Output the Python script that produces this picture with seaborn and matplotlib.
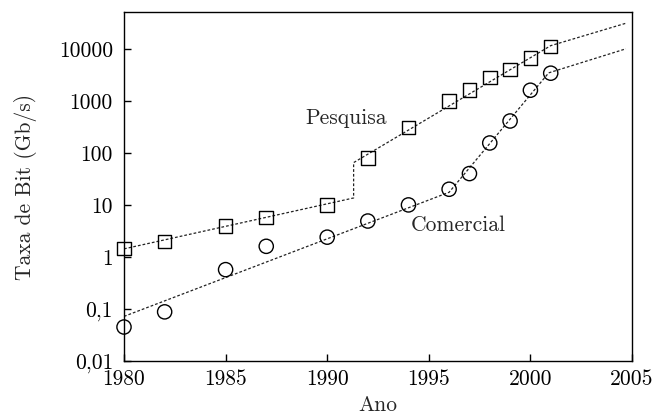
import matplotlib
matplotlib.use("Agg")
import matplotlib.pyplot as plt
import seaborn as sns
import pandas as pd

# Observed link rates (Gb/s) per year
anos = [1980, 1982, 1985, 1987, 1990, 1992, 1994, 1996, 1997, 1998, 1999, 2000, 2001]
pesquisa = [1.45, 2.0, 3.9, 5.7, 10, 80, 310, 1000, 1600, 2800, 4000, 6600, 11000]
comercial = [0.045, 0.088, 0.57, 1.6, 2.4, 4.9, 10, 20, 40, 155, 410, 1600, 3400]

# Trend lines (piecewise)
tend_pesq_x = [1980, 1991.3, 1991.3, 2001, 2004.7]
tend_pesq_y = [1.43, 13.6, 65, 11500, 31000]
tend_com_x = [1980, 1996, 2000.9, 2004.7]
tend_com_y = [0.072, 17.5, 3450, 10000]

yticks = [0.01, 0.1, 1, 10, 100, 1000, 10000]
ytick_labels = ["0,01", "0,1", "1", "10", "100", "1000", "10000"]
xticks = [1980, 1985, 1990, 1995, 2000, 2005]

sns.set_theme(style="ticks")
plt.rcParams["font.family"] = ["cmr10", "DejaVu Serif"]
plt.rcParams["mathtext.fontset"] = "cm"
plt.rcParams["axes.unicode_minus"] = False

FS = 15.5

fig = plt.figure(figsize=(6.53, 4.16), dpi=100)
ax = fig.add_axes([124 / 653, 55 / 416, 508 / 653, 349 / 416])

dash = (0, (2.2, 1.6))
df_tp = pd.DataFrame({"x": tend_pesq_x, "y": tend_pesq_y})
df_tc = pd.DataFrame({"x": tend_com_x, "y": tend_com_y})
sns.lineplot(data=df_tp, x="x", y="y", ax=ax, sort=False, estimator=None,
             color="#222222", lw=0.9, linestyle=dash)
sns.lineplot(data=df_tc, x="x", y="y", ax=ax, sort=False, estimator=None,
             color="#222222", lw=0.9, linestyle=dash)

df = pd.DataFrame({"ano": anos, "pesquisa": pesquisa, "comercial": comercial})
ax.scatter(df["ano"], df["pesquisa"], marker="s", s=95, facecolors="none",
           edgecolors="black", linewidths=1.0, zorder=3, clip_on=False)
ax.scatter(df["ano"], df["comercial"], marker="o", s=105, facecolors="none",
           edgecolors="black", linewidths=1.0, zorder=3, clip_on=False)

ax.set_yscale("log")
ax.set_xlim(1980, 2005)
ax.set_ylim(0.01, 51000)
ax.set_yticks(yticks)
ax.set_yticklabels(ytick_labels)
ax.yaxis.set_minor_locator(matplotlib.ticker.NullLocator())
ax.set_xticks(xticks)
ax.set_xticklabels([str(t) for t in xticks])

ax.tick_params(axis="both", direction="in", length=5, width=1, labelsize=FS,
               colors="black", pad=8)
ax.tick_params(axis="x", pad=6)
for sp in ax.spines.values():
    sp.set_visible(True)
    sp.set_color("black")
    sp.set_linewidth(1.0)

ax.set_xlabel("Ano", fontsize=FS, labelpad=5)
ax.set_ylabel("Taxa de Bit (Gb/s)", fontsize=FS, labelpad=16)

ax.text(1988.9, 470, "Pesquisa", fontsize=FS, ha="left", va="center")
ax.text(1994.1, 4.1, "Comercial", fontsize=FS, ha="left", va="center")

fig.savefig("out.png", dpi=100, facecolor="white")
